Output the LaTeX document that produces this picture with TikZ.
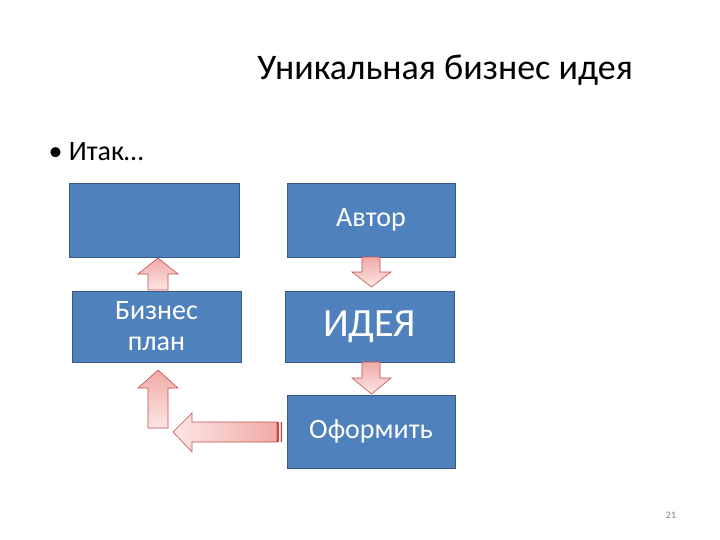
\documentclass[tikz,border=0pt]{standalone}
\usepackage{fontspec}
\setmainfont{Carlito}
\definecolor{boxblue}{RGB}{79,129,189}
\definecolor{boxedge}{RGB}{56,93,138}
\definecolor{arredge}{RGB}{192,80,77}
\definecolor{arrdark}{RGB}{240,170,168}
\definecolor{arrlight}{RGB}{252,230,228}
\begin{document}
\begin{tikzpicture}[x=1pt,y=-1pt,
  box/.style={draw=boxedge, fill=boxblue, line width=0.8pt, text=white, align=center, inner sep=0pt},
  barrow/.style={draw=arredge, line width=0.6pt, top color=arrdark, bottom color=arrlight},
  harrow/.style={draw=arredge, line width=0.6pt, left color=arrlight, right color=arrdark}]
\useasboundingbox (0,0) rectangle (720,540);
\node[font=\fontsize{36}{40}\selectfont] (title) at (445,70) {Уникальная бизнес идея};
\node[font=\fontsize{28}{32}\selectfont, anchor=west] (bul) at (45,152) {• Итак…};
\node[box, minimum width=170, minimum height=74] (b1) at (154,220) {};
\node[box, minimum width=168, minimum height=74, font=\fontsize{28}{32}\selectfont] (avt) at (371,220) {Автор};
\node[box, minimum width=169, minimum height=71, font=\fontsize{28}{31}\selectfont] (bp) at (156.5,326.5) {Бизнес\\план};
\node[box, minimum width=169, minimum height=71, font=\fontsize{40}{44}\selectfont] (idea) at (369.5,326.5) {ИДЕЯ};
\node[box, minimum width=168, minimum height=73, font=\fontsize{28}{32}\selectfont] (of) at (371,431.5) {Оформить};
\draw[barrow] (148,290) -- (148,274) -- (138,274) -- (158,258) -- (178,274) -- (168,274) -- (168,290) -- cycle;
\draw[barrow] (362,257) -- (362,272) -- (352,272) -- (371.5,287) -- (391,272) -- (380,272) -- (380,257) -- cycle;
\draw[barrow] (362,362) -- (362,378) -- (352,378) -- (371.5,394) -- (391,378) -- (380,378) -- (380,362) -- cycle;
\draw[barrow] (148,428) -- (148,388) -- (138,388) -- (158,370) -- (178,388) -- (168,388) -- (168,428) -- cycle;
\draw[harrow] (277,422) -- (192,422) -- (192,413) -- (173,432) -- (192,452) -- (192,442) -- (277,442) -- cycle;
\fill[arredge] (277,422) rectangle (279,442) (280.5,422) rectangle (282,442);
\node[font=\fontsize{10}{12}\selectfont, text=gray] (pg) at (671,515) {21};
\end{tikzpicture}
\end{document}
